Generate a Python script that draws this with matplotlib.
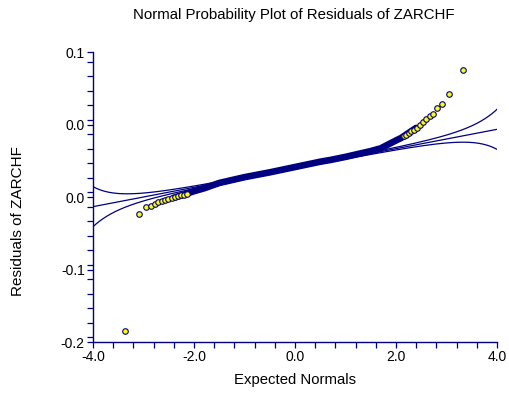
import math
import numpy as np
import matplotlib
matplotlib.use("Agg")
import matplotlib.pyplot as plt
from matplotlib.ticker import FixedLocator, MultipleLocator

# ---------------- data ----------------
title = "Normal Probability Plot of Residuals of ZARCHF"
x_label = "Expected Normals"
y_label = "Residuals of ZARCHF"

x_ticks = [-4.0, -2.0, 0.0, 2.0, 4.0]
x_tick_labels = ["-4.0", "-2.0", "0.0", "2.0", "4.0"]
y_ticks = [0.1, 0.025, -0.05, -0.125, -0.2]
y_tick_labels = ["0.1", "0.0", "0.0", "-0.1", "-0.2"]

# dense central part of the plot (centre line of the overlapping markers)
band_x = [-2.40, -2.20, -2.00, -1.80, -1.50, -1.00, -0.50, 0.00, 0.50,
          0.70, 1.00, 1.50, 1.70, 2.00, 2.10, 2.30, 2.40]
band_y = [-0.0508, -0.0475, -0.0440, -0.0410, -0.0355, -0.0295, -0.0245,
          -0.0190, -0.0135, -0.0117, -0.0085, -0.0025, 0.0004, 0.0085,
          0.0110, 0.0180, 0.0215]

# individually visible points (tails)
tail_x = [-3.36, -3.09, -2.95, -2.85, -2.77, -2.71, -2.64, -2.57, -2.51,
          -2.44, -2.38, -2.32, -2.26, -2.20, -2.14,
          2.15, 2.20, 2.25, 2.30, 2.35,
          2.41, 2.475, 2.54, 2.59, 2.67, 2.74, 2.82, 2.916, 3.055, 3.32]
tail_y = [-0.189, -0.0676, -0.0607, -0.0590, -0.0572, -0.0552, -0.0541,
          -0.0534, -0.0524, -0.0514, -0.0503, -0.0493, -0.0484, -0.0475,
          -0.0466,
          0.0130, 0.0145, 0.0160, 0.0178, 0.0195,
          0.0217, 0.0242, 0.0273, 0.0307, 0.0338, 0.0362, 0.0421, 0.0459,
          0.0566, 0.0814]

# reference line and its confidence limits
line_intercept = -0.020
line_slope = 0.010
band_coef = 0.000493

# ---------------- styling ----------------
NAVY = "#000080"
plt.rcParams["font.family"] = ["Liberation Sans", "DejaVu Sans"]

fig = plt.figure(figsize=(5.10, 3.96), dpi=100)
ax = fig.add_axes([93 / 510, (396 - 342) / 396, 404 / 510, 290 / 396])

xs = np.linspace(-4, 4, 801)
fit = line_intercept + line_slope * xs
erf = np.vectorize(math.erf)
p = 0.5 * (1 + erf(xs / math.sqrt(2)))
phi = np.exp(-xs ** 2 / 2) / math.sqrt(2 * math.pi)
half = band_coef * np.sqrt(p * (1 - p)) / phi

ax.plot(xs, fit, color=NAVY, lw=0.9, zorder=2)
ax.plot(xs, fit + half, color=NAVY, lw=0.9, zorder=2)
ax.plot(xs, fit - half, color=NAVY, lw=0.9, zorder=2)

ax.plot(band_x, band_y, color=NAVY, lw=4.8, solid_capstyle="round",
        solid_joinstyle="round", zorder=3)
ax.scatter(tail_x, tail_y, s=16, facecolor="#FFFF00", edgecolor=NAVY,
           linewidths=0.8, zorder=4)

ax.set_xlim(-4, 4)
ax.set_ylim(-0.2, 0.1)

ax.xaxis.set_major_locator(FixedLocator(x_ticks))
ax.set_xticklabels(x_tick_labels)
ax.xaxis.set_minor_locator(MultipleLocator(0.4))
ax.yaxis.set_major_locator(FixedLocator(y_ticks))
ax.set_yticklabels(y_tick_labels)
ax.yaxis.set_minor_locator(MultipleLocator(0.015))

for s in ["top", "right"]:
    ax.spines[s].set_visible(False)
for s in ["left", "bottom"]:
    ax.spines[s].set_color(NAVY)
    ax.spines[s].set_linewidth(1.0)

ax.tick_params(which="both", direction="out", length=4.5, width=0.9,
               color=NAVY, labelsize=10, labelcolor="black", pad=1.5)

fig.text(294 / 510, 1 - 15 / 396, title, ha="center", va="center",
         fontsize=10.8)
fig.text(295 / 510, 1 - 380 / 396, x_label, ha="center", va="center",
         fontsize=10.7)
fig.text(18 / 510, 1 - 221 / 396, y_label, ha="center", va="center",
         rotation=90, fontsize=11)

fig.savefig("out.png", dpi=100)
